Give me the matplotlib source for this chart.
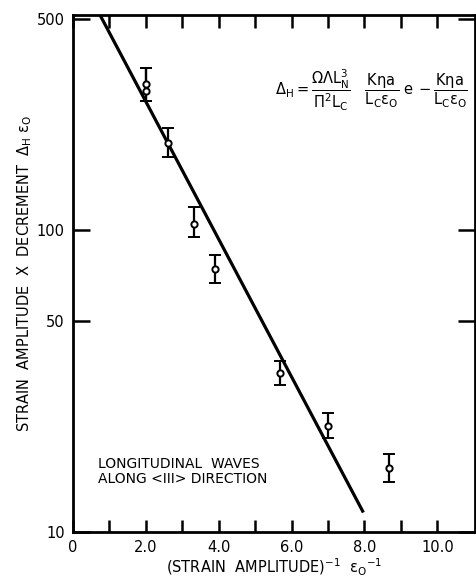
import numpy as np
import matplotlib
matplotlib.use("Agg")
import matplotlib.pyplot as plt

# data
inv_strain = [2.0, 2.0, 2.6, 3.33, 3.9, 5.67, 7.0, 8.68]
decrement = [304, 289, 194, 105, 74.1, 33.5, 22.4, 16.3]
err_lo = [267, 267, 175, 94.6, 66.9, 30.7, 20.4, 14.6]
err_hi = [344, 344, 218, 119, 82.6, 36.9, 24.7, 18.1]

fit_x = [0.74, 7.97]
fit_y = [515, 11.6]

xticks = [0, 2, 4, 6, 8, 10]
xlabels = ["0", "2.0", "4.0", "6.0", "8.0", "10.0"]
yticks = [10, 50, 100, 500]
ylabels = ["10", "50", "100", "500"]

plt.rcParams["font.family"] = "DejaVu Sans"
plt.rcParams["mathtext.fontset"] = "dejavusans"
plt.rcParams["mathtext.default"] = "regular"

fig = plt.figure(figsize=(4.76, 5.79), dpi=100)
ax = fig.add_axes([0.1534, 0.0812, 0.845, 0.893])

ax.set_yscale("log")
ax.set_xlim(0, 11.04)
ax.set_ylim(10, 515)

ax.plot(fit_x, fit_y, color="black", lw=2.3, solid_capstyle="butt")

yerr = [np.array(decrement) - np.array(err_lo), np.array(err_hi) - np.array(decrement)]
ax.errorbar(inv_strain, decrement, yerr=yerr, fmt="o", ms=4.5, mfc="white",
            mec="black", mew=1.4, ecolor="black", elinewidth=1.6,
            capsize=4, capthick=1.6, zorder=3)

for s in ax.spines.values():
    s.set_linewidth(2)

ax.set_xticks(range(1, 11), minor=True)
ax.set_xticks(xticks)
ax.set_xticklabels(xlabels)
ax.set_yticks(yticks)
ax.set_yticklabels(ylabels)
ax.yaxis.set_minor_locator(matplotlib.ticker.NullLocator())

ax.tick_params(which="both", direction="in", top=True, right=True,
               width=1.8, labelsize=10.5)
ax.tick_params(axis="x", which="both", length=9, pad=6)
ax.tick_params(axis="y", which="both", length=12, pad=6)

ax.set_xlabel(r"(STRAIN  AMPLITUDE)$^{-1}$  $\epsilon_O$$^{-1}$",
              fontsize=10.5, labelpad=1)
ax.set_ylabel(r"STRAIN  AMPLITUDE  X  DECREMENT  $\Delta_H$ $\epsilon_O$",
              fontsize=10.5, labelpad=2)

ax.text(5.55, 290,
        r"$\Delta_H = \dfrac{\Omega\Lambda L^3_N}{\Pi^2 L_C}\ \ \ "
        r"\dfrac{K\eta a}{L_C\epsilon_O}\ e\,-\dfrac{K\eta a}{L_C\epsilon_O}$",
        fontsize=10.5, va="center", ha="left")

ax.text(0.69, 14.2, "LONGITUDINAL  WAVES\nALONG <III> DIRECTION",
        fontsize=10, va="bottom", ha="left", linespacing=1.1)

fig.savefig("out.png", dpi=100)
